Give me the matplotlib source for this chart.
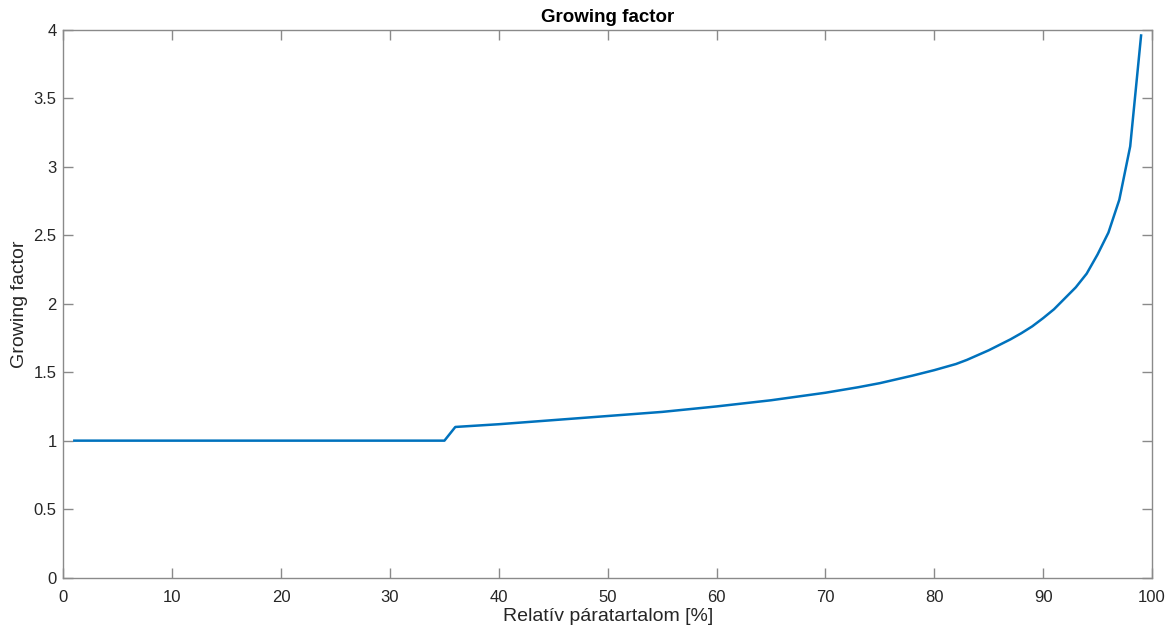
import matplotlib.pyplot as plt

plt.rcParams['font.family'] = ['Liberation Sans', 'DejaVu Sans']

# relative humidity [%] and growing factor
rh_flat = list(range(1, 36))
gf_flat = [1.0] * len(rh_flat)

rh_rise = [36, 40, 45, 50, 55, 60, 65, 70, 73, 75, 78, 80, 82, 83, 84, 85, 86,
           87, 88, 89, 90, 91, 92, 93, 94, 95, 96, 97, 98, 99]
gf_rise = [1.10, 1.12, 1.15, 1.18, 1.21, 1.25, 1.295, 1.35, 1.39, 1.42,
           1.475, 1.515, 1.56, 1.59, 1.625, 1.66, 1.70, 1.74, 1.785, 1.835,
           1.895, 1.96, 2.04, 2.12, 2.22, 2.36, 2.52, 2.76, 3.15, 3.96]

rh = rh_flat + rh_rise
gf = gf_flat + gf_rise

x_ticks = [0, 10, 20, 30, 40, 50, 60, 70, 80, 90, 100]
y_ticks = [0, 0.5, 1, 1.5, 2, 2.5, 3, 3.5, 4]
y_tick_labels = ['0', '0.5', '1', '1.5', '2', '2.5', '3', '3.5', '4']

fig = plt.figure(figsize=(11.75, 6.32), dpi=100)
ax = fig.add_axes([0.054, 0.0862, 0.9264, 0.8663])

ax.plot(rh, gf, color='#0072BD', linewidth=1.8)

ax.set_xlim(0, 100)
ax.set_ylim(0, 4)
ax.set_xticks(x_ticks)
ax.set_yticks(y_ticks)
ax.set_yticklabels(y_tick_labels)

for s in ax.spines.values():
    s.set_color('#8a8a8a')
    s.set_linewidth(1.0)
ax.tick_params(direction='in', length=7, width=1.0, color='#8a8a8a',
               labelcolor='#262626', labelsize=12, top=True, right=True)
ax.tick_params(axis='x', pad=9)
ax.tick_params(axis='y', pad=5)

ax.set_title('Growing factor', fontsize=13.5, fontweight='bold', color='#000000', pad=6)
ax.set_xlabel('Relatív páratartalom [%]', fontsize=14, color='#262626', labelpad=2)
ax.set_ylabel('Growing factor', fontsize=14, color='#262626', labelpad=4)

fig.savefig('out.png', dpi=100)
plt.close()
